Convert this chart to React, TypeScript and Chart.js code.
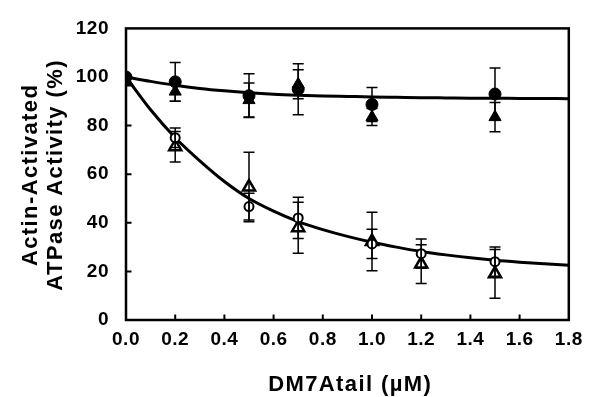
import React, { useEffect, useRef } from "react";
import { Chart, registerables } from "chart.js";

Chart.register(...registerables);

// ---- data ----
const xTicks = [0, 0.2, 0.4, 0.6, 0.8, 1.0, 1.2, 1.4, 1.6, 1.8];
const yTicks = [0, 20, 40, 60, 80, 100, 120];
const xTitle = "DM7Atail (\u00b5M)";
const yTitleLines = ["Actin-Activated", "ATPase Activity (%)"];

const doseFilled = [0, 0.2, 0.5, 0.7, 1.0, 1.5];
const filledCircle = [100, 98, 92.3, 95, 88.7, 93];
const filledCircleErr = [0, 8, 9, 10.5, 7, 10.7];
const filledTriangle = [98.5, 94, 90.5, 97, 83.5, 83.5];
const filledTriangleErr = [0, 4, 7, 6, 3.5, 6];

const doseOpen = [0, 0.2, 0.5, 0.7, 1.0, 1.2, 1.5];
const openCircle = [100, 75, 46.7, 42, 31.3, 27.3, 24];
const openCircleErr = [0, 4, 5.5, 8.5, 6, 6, 6];
const openTriangle = [98, 71.3, 54.7, 38, 32.3, 23, 19];
const openTriangleErr = [0, 6.3, 14.3, 10.5, 12, 8, 10];

const fitX = [0, 0.1, 0.2, 0.3, 0.4, 0.5, 0.6, 0.7, 0.8, 0.9, 1.0, 1.1, 1.2, 1.3, 1.4, 1.5, 1.6, 1.7, 1.8];
const fitUpper = [100, 98.2, 96.6, 95.3, 94.3, 93.5, 92.9, 92.5, 92.2, 92.0, 91.8, 91.65, 91.5, 91.4, 91.3, 91.25, 91.2, 91.15, 91.1];
const fitLower = [100, 86.5, 75, 65.5, 57, 50, 44.8, 40.5, 37.2, 34.4, 32, 30, 28.2, 26.8, 25.6, 24.6, 23.8, 23.1, 22.5];

const FONT = "'Liberation Sans', Arial, sans-serif";

const pts = (xs: number[], ys: number[]) => xs.map((x, i) => ({ x, y: ys[i] }));

const errorBarPlugin = {
  id: "errorBars",
  afterDatasetsDraw(chart: any) {
    const ctx = chart.ctx;
    const xs = chart.scales.x;
    const ys = chart.scales.y;
    ctx.save();
    ctx.strokeStyle = "#000";
    ctx.lineWidth = 1.5;
    chart.data.datasets.forEach((ds: any) => {
      if (!ds.errors) return;
      ds.data.forEach((p: any, j: number) => {
        const e = ds.errors[j];
        if (!e) return;
        const px = xs.getPixelForValue(p.x);
        const yt = ys.getPixelForValue(p.y + e);
        const yb = ys.getPixelForValue(p.y - e);
        const cap = 5.5;
        ctx.beginPath();
        ctx.moveTo(px, yt);
        ctx.lineTo(px, yb);
        ctx.moveTo(px - cap, yt);
        ctx.lineTo(px + cap, yt);
        ctx.moveTo(px - cap, yb);
        ctx.lineTo(px + cap, yb);
        ctx.stroke();
      });
    });
    ctx.restore();
  },
};

const framePlugin = {
  id: "frame",
  beforeDraw(chart: any) {
    chart.ctx.letterSpacing = "0.5px";
  },
  afterDraw(chart: any) {
    const ctx = chart.ctx;
    const a = chart.chartArea;
    const xs = chart.scales.x;
    const ys = chart.scales.y;
    ctx.save();
    ctx.strokeStyle = "#000";
    ctx.lineWidth = 2.5;
    ctx.strokeRect(a.left, a.top, a.right - a.left, a.bottom - a.top);
    ctx.lineWidth = 2;
    ctx.beginPath();
    xTicks.forEach((v) => {
      const px = xs.getPixelForValue(v);
      if (px <= a.left + 1 || px >= a.right - 1) return;
      ctx.moveTo(px, a.bottom);
      ctx.lineTo(px, a.bottom - 5.5);
    });
    yTicks.forEach((v) => {
      const py = ys.getPixelForValue(v);
      if (py >= a.bottom - 1 || py <= a.top + 1) return;
      ctx.moveTo(a.left, py);
      ctx.lineTo(a.left + 5.5, py);
    });
    ctx.stroke();

    // axis titles
    ctx.fillStyle = "#000";
    ctx.letterSpacing = "1.4px";
    ctx.font = `bold 22px ${FONT}`;
    ctx.textAlign = "center";
    ctx.textBaseline = "alphabetic";
    ctx.fillText(xTitle, 350.2, 391);
    const cy = (a.top + a.bottom) / 2;
    const baselines = [36.5, 61.5];
    yTitleLines.forEach((line, i) => {
      ctx.save();
      ctx.translate(baselines[i], cy + 0.7);
      ctx.rotate(-Math.PI / 2);
      ctx.fillText(line, 0, 0);
      ctx.restore();
    });
    ctx.restore();
  },
};

export default function App() {
  const ref = useRef<HTMLCanvasElement | null>(null);
  useEffect(() => {
    if (!ref.current) return;
    const tickFont = { family: FONT, size: 19, weight: "bold" as const, lineHeight: 1.2 };
    const chart = new Chart(ref.current, {
      type: "scatter",
      data: {
        datasets: [
          {
            label: "filled circle",
            data: pts(doseFilled, filledCircle),
            errors: filledCircleErr,
            pointStyle: "circle",
            pointRadius: 6,
            backgroundColor: "#000",
            borderColor: "#000",
            borderWidth: 1,
          } as any,
          {
            label: "filled triangle",
            data: pts(doseFilled, filledTriangle),
            errors: filledTriangleErr,
            pointStyle: "triangle",
            pointRadius: 7,
            backgroundColor: "#000",
            borderColor: "#000",
            borderWidth: 1,
          } as any,
          {
            label: "open circle",
            data: pts(doseOpen, openCircle),
            errors: openCircleErr,
            pointStyle: "circle",
            pointRadius: 4.5,
            backgroundColor: "#fff",
            borderColor: "#000",
            borderWidth: 2,
          } as any,
          {
            label: "open triangle",
            data: pts(doseOpen, openTriangle),
            errors: openTriangleErr,
            pointStyle: "triangle",
            pointRadius: 7,
            backgroundColor: "#fff",
            borderColor: "#000",
            borderWidth: 2.5,
          } as any,
          {
            label: "fit upper",
            data: pts(fitX, fitUpper),
            showLine: true,
            pointRadius: 0,
            borderColor: "#000",
            borderWidth: 3,
            cubicInterpolationMode: "monotone",
          } as any,
          {
            label: "fit lower",
            data: pts(fitX, fitLower),
            showLine: true,
            pointRadius: 0,
            borderColor: "#000",
            borderWidth: 3,
            cubicInterpolationMode: "monotone",
          } as any,
        ],
      },
      options: {
        animation: false,
        responsive: false,
        events: [],
        layout: { padding: { top: 20, right: 14, left: 0, bottom: 0 }, autoPadding: false },
        plugins: { legend: { display: false }, tooltip: { enabled: false } },
        scales: {
          x: {
            type: "linear",
            min: 0,
            max: 1.8,
            grid: { display: false, drawTicks: false },
            border: { display: false },
            afterBuildTicks: (s: any) => {
              s.ticks = xTicks.map((v) => ({ value: v }));
            },
            afterFit: (s: any) => {
              s.height = 77;
            },
            ticks: {
              color: "#000",
              font: tickFont,
              padding: 8,
              maxRotation: 0,
              autoSkip: false,
              callback: (v: any) => Number(v).toFixed(1),
            },
          },
          y: {
            type: "linear",
            min: 0,
            max: 120,
            grid: { display: false, drawTicks: false },
            border: { display: false },
            afterBuildTicks: (s: any) => {
              s.ticks = yTicks.map((v) => ({ value: v }));
            },
            afterFit: (s: any) => {
              s.width = 126;
            },
            ticks: {
              color: "#000",
              font: tickFont,
              padding: 17,
              autoSkip: false,
              callback: (v: any) => String(v),
            },
          },
        },
      } as any,
      plugins: [errorBarPlugin, framePlugin],
    });
    return () => chart.destroy();
  }, []);
  return (
    <div style={{ position: "absolute", left: 0, top: 0, width: 590, height: 397, background: "#fff" }}>
      <canvas ref={ref} width={590} height={397} />
    </div>
  );
}
